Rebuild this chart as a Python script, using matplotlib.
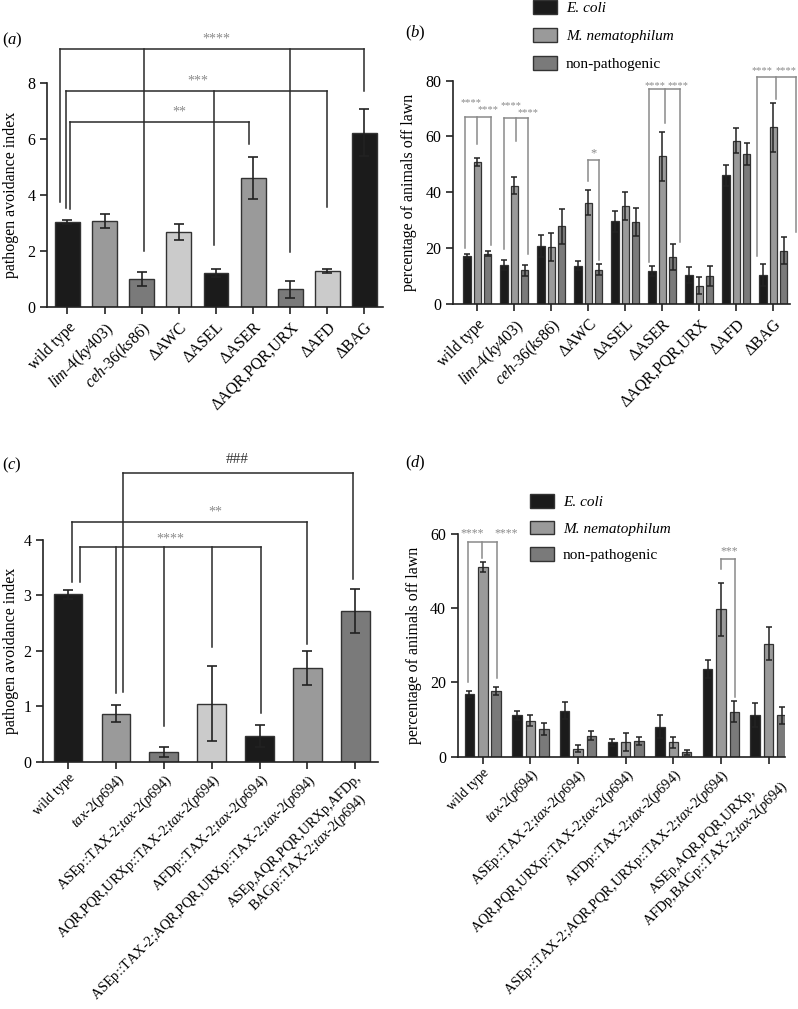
import numpy as np
import matplotlib
matplotlib.use("Agg")
import matplotlib.pyplot as plt
from matplotlib.patches import Patch

plt.rcParams['font.family'] = 'serif'
plt.rcParams['font.serif'] = ['Liberation Serif', 'DejaVu Serif']
plt.rcParams['mathtext.fontset'] = 'custom'
plt.rcParams['mathtext.rm'] = 'Liberation Serif'
plt.rcParams['mathtext.it'] = 'Liberation Serif:italic'

# ---- data (a): pathogen avoidance index, ablations
strains_a = ['wild type', r'$\mathit{lim}$-$\mathit{4(ky403)}$', r'$\mathit{ceh}$-$\mathit{36(ks86)}$',
             'ΔAWC', 'ΔASEL', 'ΔASER', 'ΔAQR,PQR,URX', 'ΔAFD', 'ΔBAG']
index_a = [3.02, 3.07, 1.00, 2.67, 1.20, 4.60, 0.62, 1.27, 6.22]
err_a = [0.07, 0.25, 0.25, 0.30, 0.15, 0.75, 0.30, 0.08, 0.85]

# ---- data (b): percentage off lawn, ablations
ecoli_b = [17.0, 14.0, 20.7, 13.7, 29.5, 11.7, 10.3, 46.0, 10.3]
ecoli_b_err = [0.7, 1.8, 4.0, 1.5, 3.8, 1.7, 3.0, 3.7, 4.0]
mnem_b = [50.8, 42.3, 20.5, 36.2, 35.2, 52.9, 6.5, 58.4, 63.3]
mnem_b_err = [1.3, 3.0, 5.0, 4.5, 5.0, 8.7, 3.0, 4.5, 8.7]
nonpath_b = [18.0, 12.0, 27.7, 12.2, 29.3, 16.7, 9.8, 53.7, 19.0]
nonpath_b_err = [1.0, 2.0, 6.3, 2.0, 5.0, 4.7, 3.6, 3.8, 4.8]

# ---- data (c): pathogen avoidance index, tax-2 rescues
strains_c = ['wild type',
             r'$\mathit{tax}$-$\mathit{2(p694)}$',
             r'ASEp::TAX-2;$\mathit{tax}$-$\mathit{2(p694)}$',
             r'AQR,PQR,URXp::TAX-2;$\mathit{tax}$-$\mathit{2(p694)}$',
             r'AFDp::TAX-2;$\mathit{tax}$-$\mathit{2(p694)}$',
             r'ASEp::TAX-2;AQR,PQR,URXp::TAX-2;$\mathit{tax}$-$\mathit{2(p694)}$',
             'ASEp,AQR,PQR,URXp,AFDp,\n' + r'BAGp::TAX-2;$\mathit{tax}$-$\mathit{2(p694)}$']
index_c = [3.02, 0.87, 0.18, 1.05, 0.47, 1.69, 2.72]
err_c = [0.08, 0.15, 0.09, 0.68, 0.20, 0.30, 0.40]

# ---- data (d): percentage off lawn, tax-2 rescues
strains_d = strains_c[:6] + ['ASEp,AQR,PQR,URXp,\n' + r'AFDp,BAGp::TAX-2;$\mathit{tax}$-$\mathit{2(p694)}$']
ecoli_d = [16.9, 11.1, 12.4, 3.9, 8.1, 23.6, 11.2]
ecoli_d_err = [0.8, 1.3, 2.2, 1.0, 3.1, 2.3, 3.3]
mnem_d = [51.0, 9.7, 2.2, 4.0, 3.9, 39.7, 30.4]
mnem_d_err = [1.3, 1.5, 1.0, 2.5, 1.5, 7.1, 4.4]
nonpath_d = [17.8, 7.5, 5.6, 4.2, 1.2, 12.1, 11.2]
nonpath_d_err = [1.1, 1.6, 1.2, 1.1, 0.6, 2.8, 2.3]

BLACK = '#1b1b1b'
GRAY = '#9a9a9a'
DARK = '#7a7a7a'
LIGHT = '#cbcbcb'
EDGE = '#333333'
SIGGRAY = '#8a8a8a'

colors_a = [BLACK, GRAY, DARK, LIGHT, BLACK, GRAY, DARK, LIGHT, BLACK]
colors_c = [BLACK, GRAY, DARK, LIGHT, BLACK, GRAY, DARK]

fig = plt.figure(figsize=(7.98, 10.09), dpi=100)


def style(ax, ymax, yticks, labels, xlim, xsize=11.5, xpad=4):
    for s in ['top', 'right']:
        ax.spines[s].set_visible(False)
    for s in ['left', 'bottom']:
        ax.spines[s].set_linewidth(1.2)
        ax.spines[s].set_color('#222222')
    ax.spines['left'].set_bounds(0, ymax)
    ax.set_ylim(0, ymax)
    ax.set_xlim(*xlim)
    ax.set_yticks(yticks)
    ax.set_xticks(np.arange(len(labels)))
    ax.set_xticklabels(labels, rotation=45, ha='right', va='top', fontsize=xsize,
                       rotation_mode='anchor', multialignment='center')
    ax.tick_params(direction='out', length=5, width=1.2, color='#222222')
    ax.tick_params(axis='y', labelsize=11.5)
    ax.tick_params(axis='x', pad=xpad)


def bracket(ax, legs, top, color, lw=1.1):
    xs = [l[0] for l in legs]
    ax.plot([min(xs), max(xs)], [top, top], color=color, lw=lw, clip_on=False)
    for x, y in legs:
        ax.plot([x, x], [y, top], color=color, lw=lw, clip_on=False)


def stars(ax, x, y, s, size, color=SIGGRAY):
    ax.text(x, y, s, ha='center', va='center', color=color, fontsize=size, clip_on=False)


def single_panel(ax, vals, errs, cols, width):
    x = np.arange(len(vals))
    ax.bar(x, vals, width=width, color=cols, edgecolor=EDGE, linewidth=1.0, zorder=2)
    ax.errorbar(x, vals, yerr=errs, fmt='none', ecolor='#222222', elinewidth=1.2,
                capsize=3.5, capthick=1.2, zorder=3)


def grouped_panel(ax, series, errs, width, step):
    x = np.arange(len(series[0]))
    for k, (vals, e, c) in enumerate(zip(series, errs, [BLACK, GRAY, DARK])):
        xx = x + (k - 1) * step
        ax.bar(xx, vals, width=width, color=c, edgecolor=EDGE, linewidth=0.9, zorder=2)
        ax.errorbar(xx, vals, yerr=e, fmt='none', ecolor='#222222', elinewidth=1.1,
                    capsize=2, capthick=1.1, zorder=3)


def legend(ax, x, y, spacing):
    handles = [Patch(facecolor=c, edgecolor=EDGE, linewidth=1.0) for c in [BLACK, GRAY, DARK]]
    leg = ax.legend(handles, ['E. coli', 'M. nematophilum', 'non-pathogenic'],
                    loc='upper left', bbox_to_anchor=(x, y), bbox_transform=fig.transFigure,
                    frameon=False, borderpad=0, borderaxespad=0, fontsize=11,
                    handlelength=1.6, handleheight=1.0, handletextpad=0.55, labelspacing=spacing)
    leg.get_texts()[0].set_fontstyle('italic')
    leg.get_texts()[1].set_fontstyle('italic')


# ---------------- (a)
ax_a = fig.add_axes([0.059, 0.696, 0.421, 0.222])
single_panel(ax_a, index_a, err_a, colors_a, 0.67)
style(ax_a, 8, [0, 2, 4, 6, 8], strains_a, (-0.55, 8.5))
ax_a.set_ylabel('pathogen avoidance index', fontsize=11.5, labelpad=6)
K = '#2a2a2a'
bracket(ax_a, [(-0.19, 3.75), (2.05, 2.0), (6.0, 1.96), (8.0, 7.7)], 9.2, K)
stars(ax_a, 4.0, 9.55, '****', 10)
bracket(ax_a, [(-0.05, 3.54), (3.95, 2.2), (7.0, 3.57)], 7.7, K)
stars(ax_a, 3.5, 8.05, '***', 10)
bracket(ax_a, [(0.08, 3.5), (4.9, 5.8)], 6.6, K)
stars(ax_a, 3.0, 6.95, '**', 10)

# ---------------- (b)
ax_b = fig.add_axes([0.568, 0.699, 0.422, 0.221])
grouped_panel(ax_b, [ecoli_b, mnem_b, nonpath_b], [ecoli_b_err, mnem_b_err, nonpath_b_err], 0.2, 0.28)
style(ax_b, 80, [0, 20, 40, 60, 80], strains_a, (-0.65, 8.45))
ax_b.set_ylabel('percentage of animals off lawn', fontsize=11.5, labelpad=6)
legend(ax_b, 533 / 798, 1.0, 0.85)
SB = 7.5
bracket(ax_b, [(-0.32, 20), (0.0, 57.4), (0.37, 21)], 67, SIGGRAY)
stars(ax_b, -0.16, 72.3, '****', SB)
stars(ax_b, 0.3, 69.8, '****', SB)
bracket(ax_b, [(0.71, 19.6), (1.05, 58.5), (1.38, 18)], 66.6, SIGGRAY)
stars(ax_b, 0.9, 71.2, '****', SB)
stars(ax_b, 1.38, 68.5, '****', SB)
bracket(ax_b, [(3.0, 44.2), (3.3, 15.8)], 51.6, SIGGRAY)
stars(ax_b, 3.14, 54.0, '*', 9)
bracket(ax_b, [(4.65, 14.8), (5.08, 65), (5.49, 22)], 76.9, SIGGRAY)
stars(ax_b, 4.81, 78.2, '****', SB)
stars(ax_b, 5.43, 78.2, '****', SB)
bracket(ax_b, [(7.57, 17), (8.08, 73.5), (8.62, 25.6)], 81.4, SIGGRAY)
stars(ax_b, 7.68, 83.7, '****', SB)
stars(ax_b, 8.35, 83.7, '****', SB)

# ---------------- (c)
ax_c = fig.add_axes([0.054, 0.245, 0.42, 0.22])
single_panel(ax_c, index_c, err_c, colors_c, 0.6)
style(ax_c, 4, [0, 1, 2, 3, 4], strains_c, (-0.52, 6.48), xsize=10.3, xpad=2)
ax_c.set_ylabel('pathogen avoidance index', fontsize=11.5, labelpad=3)
bracket(ax_c, [(1.15, 1.25), (5.96, 3.3)], 5.2, K)
stars(ax_c, 3.54, 5.45, '###', 11, color='#333333')
bracket(ax_c, [(0.08, 3.24), (5.0, 2.12)], 4.33, K)
stars(ax_c, 3.07, 4.5, '**', 10)
bracket(ax_c, [(0.25, 3.24), (1.0, 1.24), (2.0, 0.64), (3.0, 2.06), (4.04, 0.88)], 3.87, K)
stars(ax_c, 2.13, 4.02, '****', 10)

# ---------------- (d)
ax_d = fig.add_axes([0.574, 0.25, 0.41, 0.221])
grouped_panel(ax_d, [ecoli_d, mnem_d, nonpath_d], [ecoli_d_err, mnem_d_err, nonpath_d_err], 0.2, 0.28)
style(ax_d, 60, [0, 20, 40, 60], strains_d, (-0.52, 6.35), xsize=10.3, xpad=2)
ax_d.set_ylabel('percentage of animals off lawn', fontsize=11.5, labelpad=6)
legend(ax_d, 530 / 798, 1 - 494 / 1009, 0.75)
bracket(ax_d, [(-0.31, 20.2), (-0.01, 53.5), (0.29, 21.1)], 57.8, SIGGRAY)
stars(ax_d, -0.22, 60, '****', 8.5)
stars(ax_d, 0.5, 60, '****', 8.5)
bracket(ax_d, [(5.01, 50.4), (5.3, 16.2)], 53.2, SIGGRAY)
stars(ax_d, 5.17, 55.2, '***', 8.5)

# panel labels
for x, y, l in [(0.002, 0.96, 'a'), (0.508, 0.967, 'b'), (0.002, 0.539, 'c'), (0.508, 0.541, 'd')]:
    fig.text(x, y, r'($\mathit{%s}$)' % l, fontsize=12, va='center', ha='left')

fig.savefig('out.png', dpi=100)
